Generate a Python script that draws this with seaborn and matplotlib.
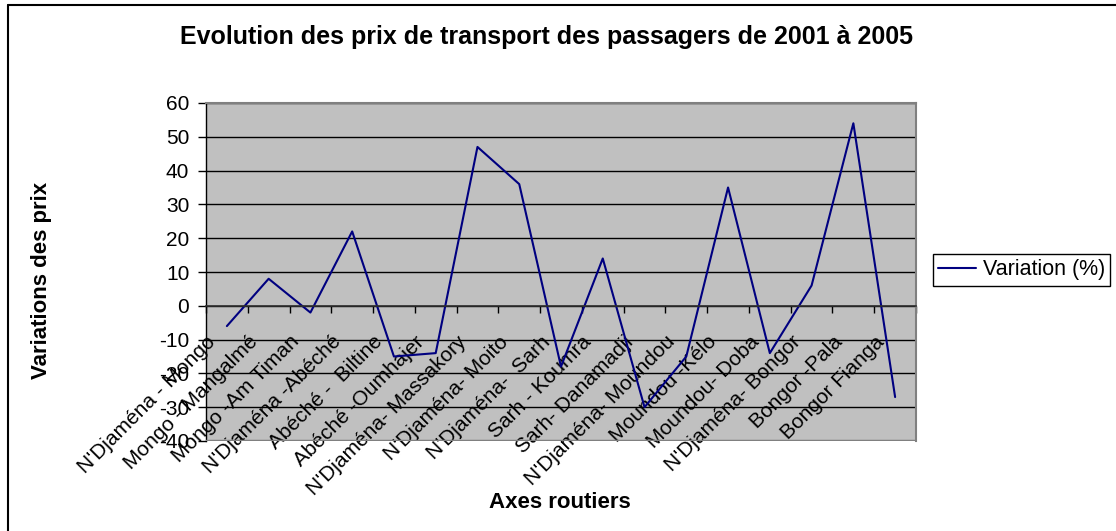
import numpy as np
import pandas as pd
import seaborn as sns
import matplotlib.pyplot as plt
from matplotlib.lines import Line2D
from matplotlib.transforms import ScaledTranslation


# Chart values
axes_routiers = [
    "N'Djaména - Mongo", "Mongo - Mangalmé", "Mongo -Am Timan",
    "N'Djaména -Abéché", "Abéché -  Biltine", "Abéché -Oumhajer",
    "N'Djaména- Massakory", "N'Djaména- Moito", "N'Djaména-  Sarh",
    "Sarh - Koumra", "Sarh- Danamadji", "N'Djaména- Moundou",
    "Moundou -Kélo", "Moundou- Doba", "N'Djaména- Bongor",
    "Bongor -Pala", "Bongor Fianga",
]
variation = [-6, 8, -2, 22, -15, -14, 47, 36, -18, 14, -30, -15, 35, -14, 6, 54, -27]
y_ticks = [-40, -30, -20, -10, 0, 10, 20, 30, 40, 50, 60]

TITLE = "Evolution des prix de transport des passagers de 2001 à 2005"


def main():
    sns.set_theme(style="white")
    plt.rcParams['font.family'] = ['Liberation Sans', 'DejaVu Sans']
    plt.rcParams['axes.unicode_minus'] = False
    for key in ['text.color', 'axes.labelcolor', 'xtick.color', 'ytick.color']:
        plt.rcParams[key] = 'black'

    df = pd.DataFrame({"pos": np.arange(len(axes_routiers)),
                       "axe": axes_routiers,
                       "variation": variation})

    W, H = 1116, 531
    fig = plt.figure(figsize=(W / 100, H / 100), dpi=100)
    ax = fig.add_axes([206 / W, 1 - 441 / H, (916 - 206) / W, (441 - 103) / H])
    ax.set_facecolor("#C0C0C0")

    sns.lineplot(data=df, x="pos", y="variation", ax=ax, color="#000080",
                 linewidth=1.5, label="Variation (%)", sort=False)

    ax.set_xlim(-0.5, len(axes_routiers) - 0.5)
    ax.set_ylim(-40, 60)
    ax.set_yticks(y_ticks)
    ax.yaxis.grid(True, color="black", linewidth=1)
    ax.set_axisbelow(True)

    # spines: category axis crosses at 0
    for side in ["top", "right"]:
        ax.spines[side].set_color("#808080")
        ax.spines[side].set_linewidth(1.5)
    ax.spines["left"].set_color("black")
    ax.spines["left"].set_linewidth(1)
    ax.spines["bottom"].set_position(("data", 0))
    ax.spines["bottom"].set_color("#303030")
    ax.spines["bottom"].set_linewidth(1.2)
    ax.axhline(-40, color="#808080", linewidth=2.5, zorder=5)

    ax.set_xticks(df["pos"], axes_routiers)
    ax.set_xticks(np.arange(len(axes_routiers) + 1) - 0.5, minor=True)
    ax.tick_params(axis="x", which="major", length=0, pad=0, labelsize=15)
    ax.tick_params(axis="x", which="minor", length=5, width=1, color="black",
                   direction="out", bottom=True)
    ax.tick_params(axis="y", length=6, width=1, color="black", left=True,
                   direction="out", labelsize=15, pad=6)

    offset = ScaledTranslation(-0.14, -0.33, fig.dpi_scale_trans)
    for lab in ax.get_xticklabels():
        lab.set_rotation(45)
        lab.set_ha("right")
        lab.set_va("center")
        lab.set_rotation_mode("anchor")
        lab.set_transform(lab.get_transform() + offset)

    ax.set_xlabel("")
    ax.set_ylabel("")
    fig.text(560 / W, 1 - 502 / H, "Axes routiers", ha="center", va="center",
             fontsize=16, fontweight="bold")
    fig.text(42 / W, 1 - 280 / H, "Variations des prix", ha="center",
             va="center", rotation=90, fontsize=16, fontweight="bold")
    fig.text(546 / W, 1 - 37 / H, TITLE, ha="center", va="center",
             fontsize=18, fontweight="bold")

    leg = ax.legend(loc="upper left", bbox_to_anchor=(933 / W, 1 - 254 / H),
                    bbox_transform=fig.transFigure, fontsize=15.5,
                    frameon=True, fancybox=False, framealpha=1,
                    edgecolor="black", handlelength=1.75, borderpad=0.25,
                    handletextpad=0.3, borderaxespad=0)
    leg.get_frame().set_linewidth(1)

    # outer chart border (left and top edges visible)
    fig.add_artist(Line2D([7.5 / W, 7.5 / W], [0, 1 - 5 / H], color="black",
                          linewidth=1.5, transform=fig.transFigure))
    fig.add_artist(Line2D([7.5 / W, 1], [1 - 5 / H, 1 - 5 / H], color="black",
                          linewidth=1.5, transform=fig.transFigure))

    fig.savefig("out.png", dpi=100, facecolor="white")
    plt.close(fig)


if __name__ == "__main__":
    main()
